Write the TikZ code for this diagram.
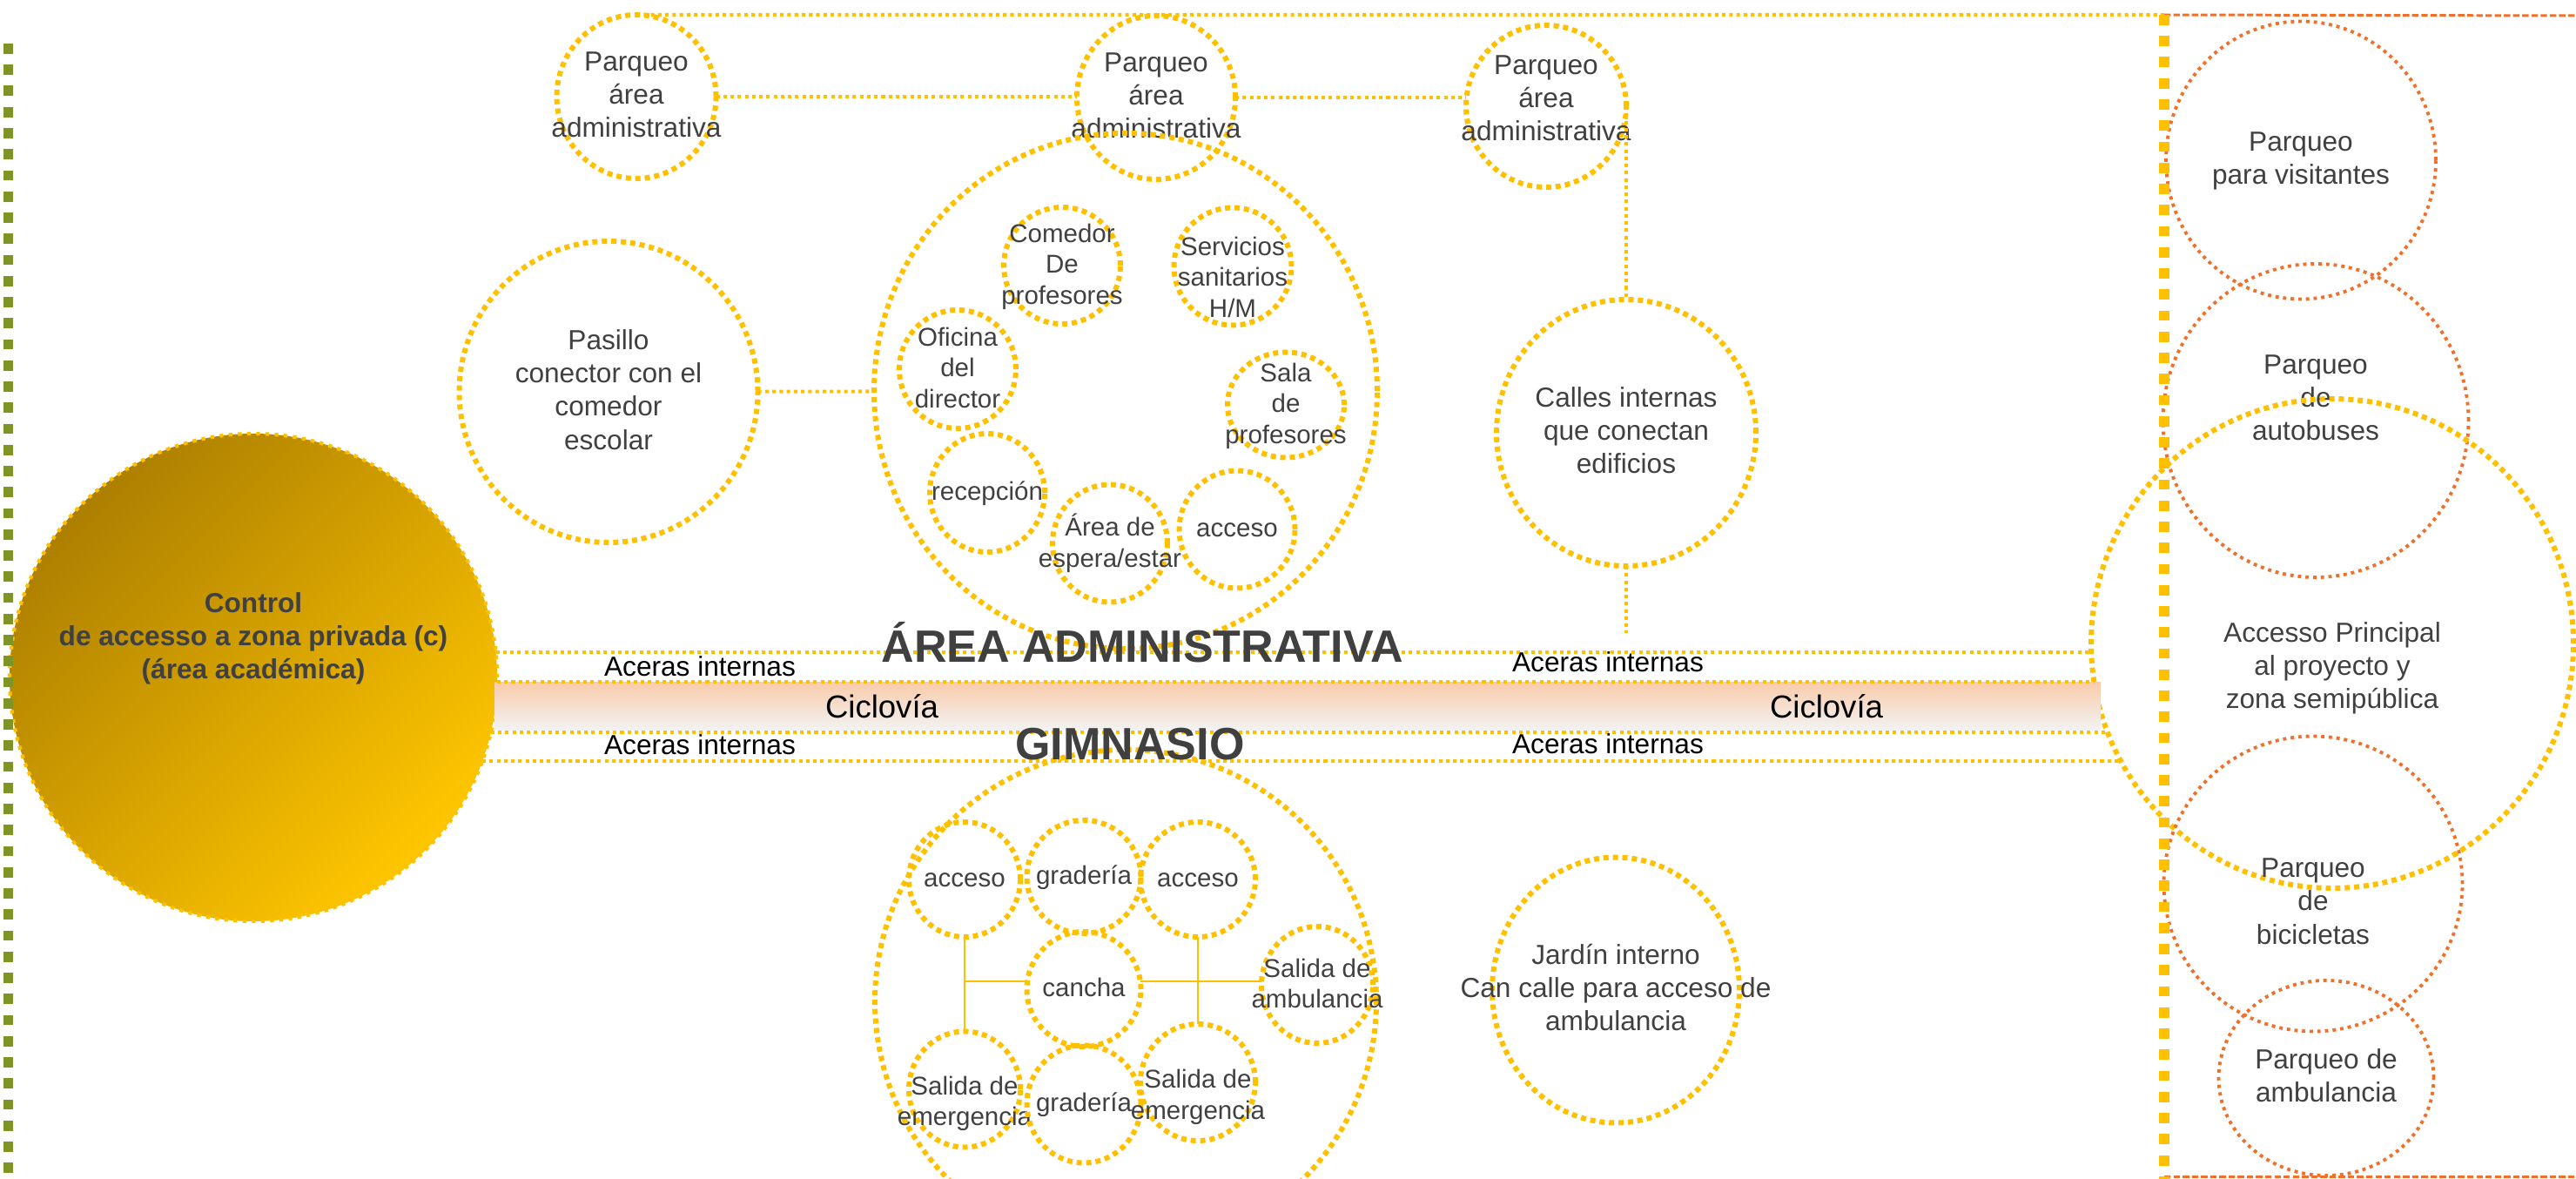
\documentclass[tikz,border=0pt]{standalone}
\usepackage{fontspec}
\setmainfont{Liberation Sans}
\usetikzlibrary{shapes.geometric}
\definecolor{Ink}{HTML}{404040}
\definecolor{Gold}{HTML}{FFC000}
\definecolor{Amber}{HTML}{FFC600}
\definecolor{DarkGold}{HTML}{AD7F00}
\definecolor{Rust}{HTML}{F0702A}
\definecolor{Olive}{HTML}{7F9426}
\definecolor{Peach}{HTML}{F9CBAA}
\definecolor{Haze}{HTML}{DAD5D2}
% centred text that does not size the circle
\newcommand{\zt}[2][-2.5pt]{\makebox[0pt]{\smash{\raisebox{#1}{\begin{tabular}{@{}c@{}}#2\end{tabular}}}}}

\begin{document}
\begin{tikzpicture}[
  wh/.style 2 args={minimum width=#1cm,minimum height=#2cm},
  zone/.style={ellipse,draw=Gold,line width=1.7pt,dash pattern=on 1.7pt off 1.4pt,inner sep=0pt,outer sep=0pt,text=Ink,font=\fontsize{9}{10.9}\selectfont},
  room/.style={zone,font=\fontsize{8.4}{10.2}\selectfont},
  park/.style={ellipse,draw=Rust,line width=1.1pt,dash pattern=on 1.1pt off 1.4pt,inner sep=0pt,outer sep=0pt,text=Ink,font=\fontsize{9}{10.9}\selectfont},
  gate/.style={circle,minimum size=5.6cm,inner sep=0pt,outer sep=0pt,draw=Gold,line width=1.2pt,dash pattern=on 1.2pt off 1.8pt,top color=DarkGold,bottom color=Amber,shading angle=45,text=Ink,font=\fontsize{9}{10.8}\selectfont\bfseries},
  link/.style={draw=Gold,line width=1.15pt,dash pattern=on 1.15pt off 1.2pt},
  tie/.style={draw=Gold,line width=0.6pt},
  fence/.style={line width=3.4pt,dash pattern=on 3.4pt off 3.5pt},
  tag/.style={font=\fontsize{9}{10.9}\selectfont,inner sep=0pt},
  title/.style={font=\fontsize{14.8}{16}\selectfont\bfseries,text=Ink,inner sep=0pt}
]
\useasboundingbox (0,0) rectangle (29.59,-13.54);

% control de acceso
\node[gate] (ctrl) at (2.91,-7.78) {\zt[10.3pt]{Control\\de accesso a zona privada (c)\\(área académica)}};

% area administrativa
\node[zone,wh={1.83}{1.88}] (p1) at (7.31,-1.11) {\zt{Parqueo\\área\\administrativa}};
\node[zone,wh={1.82}{1.88}] (p2) at (13.28,-1.12) {\zt{Parqueo\\área\\administrativa}};
\node[zone,wh={1.84}{1.86}] (p3) at (17.76,-1.22) {\zt[-0.5pt]{Parqueo\\área\\administrativa}};
\node[zone,wh={3.43}{3.46}] (pasillo) at (6.99,-4.50) {\zt{Pasillo\\conector con el\\comedor\\escolar}};
\node[zone,wh={5.78}{5.92}] (admin) at (12.93,-4.49) {};
\node[room,wh={1.34}{1.34}] (comedor) at (12.20,-3.05) {\zt{Comedor\\De\\profesores}};
\node[room,wh={1.35}{1.35}] (servicios) at (14.16,-3.06) {\zt[-6.5pt]{Servicios\\sanitarios\\H/M}};
\node[room,wh={1.34}{1.36}] (oficina) at (11.00,-4.24) {\zt{Oficina\\del\\director}};
\node[room,wh={1.34}{1.21}] (sala) at (14.77,-4.65) {\zt{Sala\\de\\profesores}};
\node[room,wh={1.32}{1.36}] (recepcion) at (11.34,-5.66) {\zt{recepción}};
\node[room,wh={1.32}{1.35}] (espera) at (12.75,-6.24) {\zt{Área de\\espera/estar}};
\node[room,wh={1.33}{1.35}] (accA) at (14.21,-6.08) {\zt{acceso}};
\node[zone,wh={2.98}{3.06}] (calles) at (18.68,-4.97) {\zt{Calles internas\\que conectan\\edificios}};
\coordinate (cfoot) at (18.68,-7.27);

% gimnasio
\node[zone,wh={5.76}{5.78}] (gym) at (12.93,-11.50) {};
\node[room,wh={1.28}{1.32}] (acc1) at (11.08,-10.10) {\zt{acceso}};
\node[room,wh={1.31}{1.30}] (grad1) at (12.45,-10.07) {\zt{gradería}};
\node[room,wh={1.32}{1.32}] (acc2) at (13.76,-10.10) {\zt{acceso}};
\node[room,wh={1.31}{1.32}] (cancha) at (12.45,-11.36) {\zt{cancha}};
\node[room,wh={1.28}{1.34}] (amb) at (15.13,-11.31) {\zt{Salida de\\ambulancia}};
\node[room,wh={1.28}{1.33}] (eme1) at (11.08,-12.51) {\zt[-6.8pt]{Salida de\\emergencia}};
\node[room,wh={1.31}{1.35}] (grad2) at (12.45,-12.68) {\zt{gradería}};
\node[room,wh={1.32}{1.34}] (eme2) at (13.76,-12.43) {\zt[-7pt]{Salida de\\emergencia}};
\node[zone,wh={2.84}{3.05}] (jardin) at (18.56,-11.37) {\zt{Jardín interno\\Can calle para acceso de\\ambulancia}};

% zona semipublica
\node[park,wh={3.10}{3.19}] (visit) at (26.43,-1.84) {\zt{Parqueo\\para visitantes}};
\node[park,wh={3.51}{3.60}] (autob) at (26.60,-4.83) {\zt[4.3pt]{Parqueo\\de\\autobuses}};
\node[zone,wh={5.54}{5.62}] (acc) at (26.79,-7.39) {\zt[-10.5pt]{Accesso Principal\\al proyecto y\\zona semipública}};
\node[park,wh={3.43}{3.39}] (bici) at (26.57,-10.15) {\zt[-8.8pt]{Parqueo\\de\\bicicletas}};
\node[park,wh={2.47}{2.24}] (ambP) at (26.72,-12.38) {\zt{Parqueo de\\ambulancia}};

% ciclovia
\fill[top color=Peach,middle color=Haze,bottom color=white!95!black] (5.68,-7.83) rectangle (24.13,-8.38);

% aceras
\draw[link] (ctrl.6) -- (ctrl.6 -| acc.182);
\draw[link] (ctrl.-1) -- (ctrl.-1 -| acc.189);
\draw[link] (ctrl.-13) -- (ctrl.-13 -| acc.202);
\draw[link] (ctrl.-20) -- (ctrl.-20 -| acc.209);

% limites
\coordinate (vtop) at (24.86,-0.17);
\coordinate (vbot) at (24.86,-13.54);
\coordinate (rtop) at (29.59,-0.18);
\coordinate (bl) at (24.86,-13.51);
\coordinate (br) at (29.59,-13.51);
\coordinate (gtop) at (0.095,-0.50);
\coordinate (gbot) at (0.095,-13.54);
\draw[link] (p1.north) -- (vtop);
\draw[Rust,line width=0.85pt,dash pattern=on 2.1pt off 0.9pt] (vtop) -- (rtop);
\draw[Rust,line width=0.85pt,dash pattern=on 2.1pt off 0.9pt] (bl) -- (br);
\draw[fence,Gold] (vtop) -- (vbot);
\draw[fence,Olive] (gtop) -- (gbot);

% conexiones
\draw[link] (p1.east) -- (p1.east -| p2.west);
\draw[link] (p2.east) -- (p2.east -| p3.west);
\draw[link] (pasillo) -- (admin);
\draw[link] (p3.east) -- (calles.north);
\draw[link] (calles.south) -- (cfoot);
\draw[tie] (acc1) -- (eme1);
\draw[tie] (cancha.172) -- (cancha.172 -| acc1);
\draw[tie] (cancha.8) -- (cancha.8 -| amb.west);
\draw[tie] (acc2) -- (eme2);

% textos
\node[title,anchor=base] (admt) at (13.12,-7.60) {ÁREA ADMINISTRATIVA};
\node[title,anchor=base] (gymt) at (12.98,-8.72) {GIMNASIO};
\node[tag] (ac1) at (8.04,-7.65) {Aceras internas};
\node[tag] (ac2) at (8.04,-8.55) {Aceras internas};
\node[tag] (ac3) at (18.47,-7.60) {Aceras internas};
\node[tag] (ac4) at (18.47,-8.54) {Aceras internas};
\node[tag,font=\fontsize{10.4}{12}\selectfont] (cv1) at (10.13,-8.11) {Ciclovía};
\node[tag,font=\fontsize{10.4}{12}\selectfont] (cv2) at (20.98,-8.11) {Ciclovía};
\end{tikzpicture}
\end{document}
